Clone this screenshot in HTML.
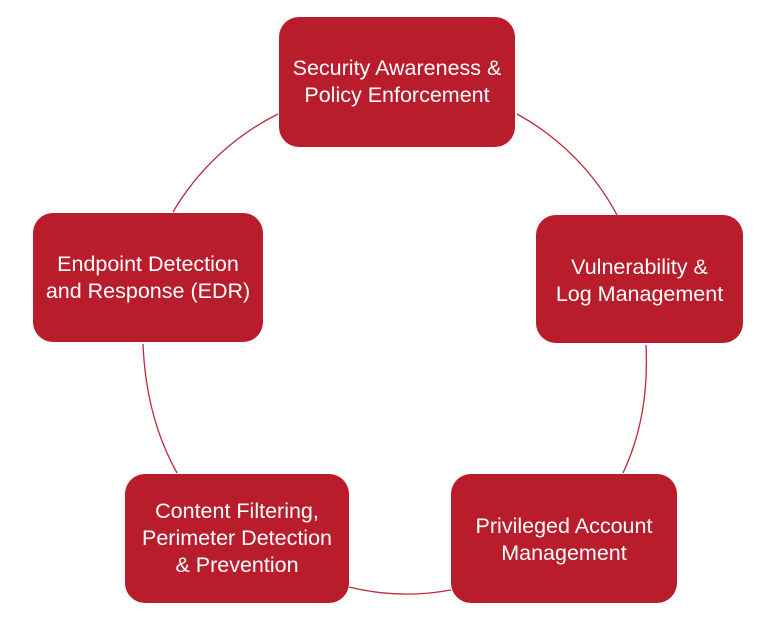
<!DOCTYPE html>
<html>
<head>
<meta charset="utf-8">
<style>
  html,body{margin:0;padding:0;background:#fff;}
  .wrap{position:relative;width:768px;height:628px;overflow:hidden;background:#fff;}
  svg{position:absolute;left:0;top:0;}
  .box{position:absolute;background:#b91d2c;border-radius:20px;display:flex;align-items:center;justify-content:center;text-align:center;color:#fff;font-family:"Liberation Sans",sans-serif;font-size:21.5px;line-height:27px;white-space:nowrap;}
</style>
</head>
<body>
<div class="wrap">
  <svg width="768" height="628" viewBox="0 0 768 628">
    <g fill="none" stroke="#c0283a" stroke-width="1.3">
      <path d="M517 114 A249 249 0 0 1 617 215"/>
      <path d="M646 345 Q649.5 417 623 473"/>
      <path d="M349 587 Q400 599.5 451 590"/>
      <path d="M143 344 Q146 417.5 177 473"/>
      <path d="M173 212 A252 252 0 0 1 278 114"/>
    </g>
  </svg>
  <div class="box" style="left:279px;top:17px;width:236px;height:130px;">Security Awareness &amp;<br>Policy Enforcement</div>
  <div class="box" style="left:33px;top:213px;width:230px;height:129px;">Endpoint Detection<br>and Response (EDR)</div>
  <div class="box" style="left:536px;top:215px;width:207px;height:128px;padding-top:4px;box-sizing:border-box;">Vulnerability &amp;<br>Log Management</div>
  <div class="box" style="left:451px;top:474px;width:226px;height:129px;padding-top:3px;box-sizing:border-box;">Privileged Account<br>Management</div>
  <div class="box" style="left:125px;top:474px;width:224px;height:129px;">Content Filtering,<br>Perimeter Detection<br>&amp; Prevention</div>
</div>
</body>
</html>
